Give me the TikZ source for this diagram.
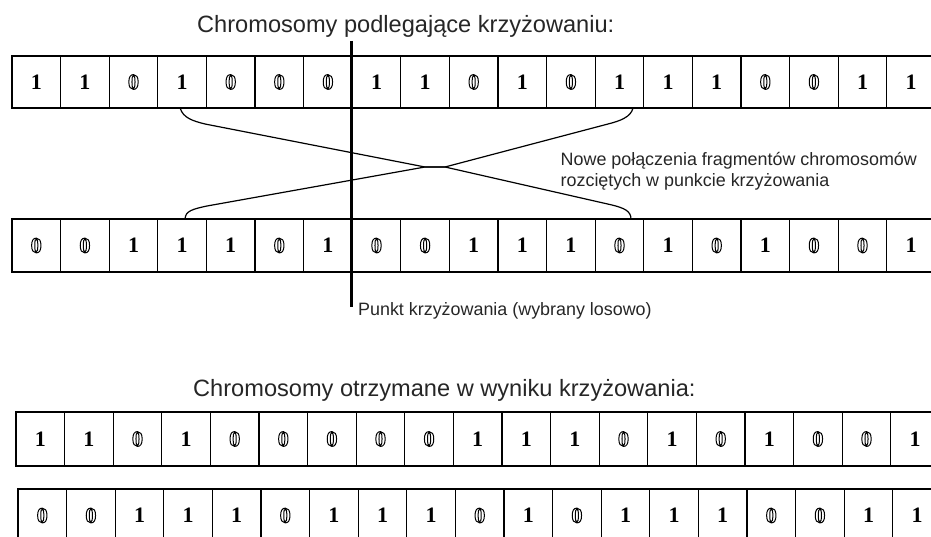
\documentclass[tikz,border=0pt]{standalone}
\usepackage{fontspec}
\setmainfont{Liberation Sans}
\newfontfamily\bitfont{Liberation Serif}
% outlined zero: stroke-only text rendering around the glyph
\newcommand\hollowzero{\special{pdf:literal direct 1 Tr 1.0 w}0\special{pdf:literal direct 0 Tr}}
\newcommand\genebit[1]{\ifnum#1=0 \hollowzero\else 1\fi}
% one chromosome: node prefix, left edge, centre y, height, gene values
\newcommand\generow[5]{%
  \foreach \v [count=\k from 0] in {#5}
    \node[gene, minimum height=#4pt] (#1\k) at ({#2+(\k+0.5)*48.6}, #3) {\genebit{\v}};}
\begin{document}
\begin{tikzpicture}[x=1pt,y=-1pt,
  gene/.style={draw=black, line width=1.2pt, minimum width=48.6pt, inner sep=0pt, outer sep=0pt,
               font=\bitfont\bfseries\fontsize{22}{22}\selectfont},
  caption/.style={anchor=base west, inner sep=0pt, text=black!85, font=\fontsize{23.6}{28}\selectfont},
  note/.style={anchor=base west, inner sep=0pt, text=black!85, font=\fontsize{17.9}{21}\selectfont},
  link/.style={line width=1.2pt, black},
  cutline/.style={line width=3pt, black}]
\useasboundingbox (0,0) rectangle (931,537);
\clip (0,0) rectangle (931,537);

% parent chromosomes
\generow{a}{12}{82}{52}{1,1,0,1,0,0,0,1,1,0,1,0,1,1,1,0,0,1,1}
\generow{b}{12}{245.5}{53}{0,0,1,1,1,0,1,0,0,1,1,1,0,1,0,1,0,0,1}
% offspring chromosomes
\generow{c}{16}{439}{54}{1,1,0,1,0,0,0,0,0,1,1,1,0,1,0,1,0,0,1}
\generow{d}{18}{515.5}{53}{0,0,1,1,1,0,1,1,1,0,1,0,1,1,1,0,0,1,1}

% crossing of the exchanged fragments
\coordinate (xl) at (425,167);
\coordinate (xr) at (445,167);
\draw[link] ([xshift=-2pt]a3.south) .. controls +(3,10) and +(-12,-3) .. (205,124)
  -- (xl) -- (xr) -- (612,205) .. controls +(12,3) and +(0,-8) .. ([xshift=11.5pt]b12.north);
\draw[link] ([xshift=13.5pt]a12.south) .. controls +(-2,9) and +(12,-3) .. (608,124)
  -- (xr) -- (xl) -- (207,206) .. controls +(-14,3) and +(0,-8) .. ([xshift=3pt]b3.north);

% crossover point
\coordinate (cuttop) at (351.5,41);
\coordinate (cutbot) at (351.5,307);
\draw[cutline] (cuttop) -- (cutbot);

% labels
\node[caption] (title1) at (197,33) {Chromosomy podlegające krzyżowaniu:};
\node[caption] (title2) at (193,396) {Chromosomy otrzymane w wyniku krzyżowania:};
\node[note] (note1) at (560.5,166) {Nowe połączenia fragmentów chromosomów};
\node[note] (note2) at (560.5,187) {rozciętych w punkcie krzyżowania};
\node[note] (pointlabel) at (358,315) {Punkt krzyżowania (wybrany losowo)};
\end{tikzpicture}
\end{document}
